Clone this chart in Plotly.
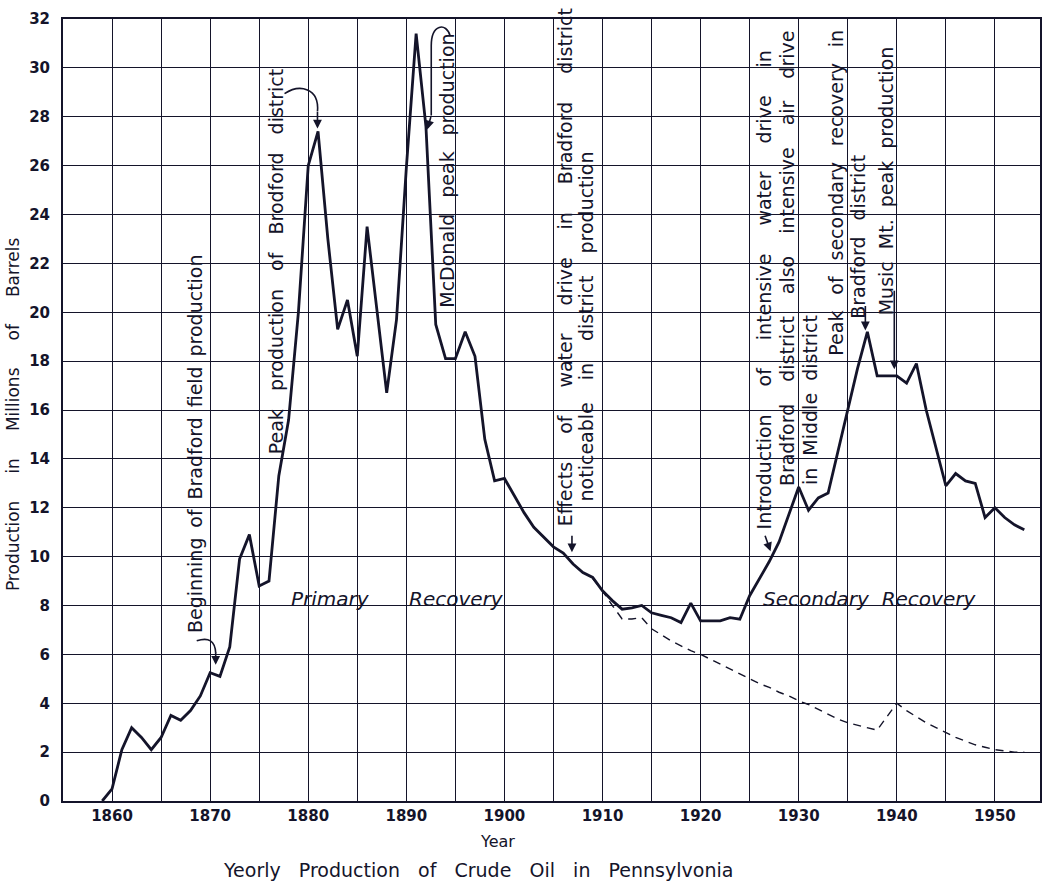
import plotly.graph_objects as go

# ---------------- data ----------------
years = list(range(1859, 1954))
production = [
    0.0, 0.5, 2.1, 3.0, 2.6, 2.1, 2.6, 3.5, 3.3, 3.7,      # 1859-1868
    4.3, 5.25, 5.1, 6.3, 9.9, 10.9, 8.8, 9.0, 13.3, 15.6,  # 1869-1878
    20.0, 26.0, 27.4, 23.0, 19.3, 20.5, 18.2, 23.5, 20.1, 16.7,  # 1879-1888
    19.7, 25.9, 31.4, 27.6, 19.5, 18.1, 18.1, 19.2, 18.2, 14.8,  # 1889-1898
    13.1, 13.2, 12.5, 11.8, 11.2, 10.8, 10.4, 10.15, 9.7, 9.35,  # 1899-1908
    9.15, 8.6, 8.2, 7.85, 7.9, 8.0, 7.7, 7.6, 7.5, 7.3,          # 1909-1918
    8.1, 7.37, 7.37, 7.37, 7.5, 7.44, 8.4, 9.1, 9.8, 10.6,       # 1919-1928
    11.7, 12.85, 11.9, 12.4, 12.6, 14.3, 16.1, 17.7, 19.2, 17.4, # 1929-1938
    17.4, 17.4, 17.1, 17.9, 16.0, 14.5, 12.9, 13.4, 13.1, 13.0,  # 1939-1948
    11.6, 12.0, 11.6, 11.3, 11.1,                                # 1949-1953
]

primary_years = list(range(1909, 1954))
primary_only = [
    9.1, 8.6, 8.0, 7.45, 7.45, 7.5, 7.05, 6.8, 6.55, 6.35,   # 1909-1918
    6.15, 6.0, 5.8, 5.6, 5.4, 5.2, 5.0, 4.8, 4.65, 4.45,     # 1919-1928
    4.3, 4.1, 3.95, 3.75, 3.55, 3.35, 3.2, 3.1, 3.0, 2.9,    # 1929-1938
    3.45, 4.0, 3.7, 3.45, 3.2, 3.0, 2.8, 2.6, 2.45, 2.3,     # 1939-1948
    2.2, 2.1, 2.05, 2.0, 2.0,                                # 1949-1953
]

x_ticks = [1860, 1870, 1880, 1890, 1900, 1910, 1920, 1930, 1940, 1950]
x_tick_text = ["1860", "1870", "1880", "1890", "1900", "1910", "1920", "1930", "1940", "1950"]
y_ticks = list(range(0, 33, 2))

INK = "#14142a"
FONT = "DejaVu Sans"

# ---------------- layout geometry ----------------
W, H = 1052, 887
L, R, T, B = 63, 10, 15, 86
PW, PH = W - L - R, H - T - B


def P(px, py):
    """pixel position in the page -> paper fraction"""
    return (px - L) / PW, (H - B - py) / PH


# approximate DejaVu Sans advance widths (em) used to spread words
_EM = dict(zip("abcdefghijklmnopqrstuvwxyz",
               [.613, .635, .550, .635, .615, .352, .635, .634, .278, .278, .579, .278, .974,
                .634, .612, .635, .635, .411, .521, .392, .634, .592, .818, .592, .592, .525]))
_EM.update({"B": .686, "C": .698, "D": .770, "E": .632, "I": .295, "M": .863, "O": .787,
            "P": .603, "R": .695, "S": .635, "Y": .611, ".": .318, " ": .318})
NBSP, THIN = "\u00a0", "\u2009"


def spread(words, size, target):
    glyph = sum(_EM.get(c, .6) for w in words for c in w) * size
    gaps = max(1, len(words) - 1)
    g = max(0.318 * size, (target - glyph) / gaps)
    n = int(g // (0.318 * size))
    m = int(round((g - n * 0.318 * size) / (0.2 * size)))
    return (NBSP * n + THIN * m).join(words)


fig = go.Figure()

fig.add_trace(go.Scatter(
    x=primary_years, y=primary_only, mode="lines",
    line=dict(color=INK, width=1.4, dash="8px,6px"),
    hoverinfo="skip", showlegend=False,
))
fig.add_trace(go.Scatter(
    x=years, y=production, mode="lines",
    line=dict(color=INK, width=2.8),
    showlegend=False,
))

annotations = []
shapes = []
ASZ = 19


def vtext(words, px, py_bottom, length, size=ASZ):
    fx, fy = P(px, py_bottom)
    annotations.append(dict(
        text=spread(words, size, length), xref="paper", yref="paper", x=fx, y=fy,
        xanchor="center", yanchor="bottom", textangle=-90, showarrow=False,
        font=dict(family=FONT, size=size, color=INK),
    ))


def htext(text, px, py, size, length=None, italic=False, angle=0):
    words = text.split(" ")
    t = spread(words, size, length) if length else text
    if italic:
        t = "<i>" + t + "</i>"
    fx, fy = P(px, py)
    annotations.append(dict(
        text=t, xref="paper", yref="paper", x=fx, y=fy, textangle=angle,
        xanchor="center", yanchor="middle", showarrow=False,
        font=dict(family=FONT, size=size, color=INK),
    ))


def arrow_head(tip_px, tip_py, ax, ay):
    fx, fy = P(tip_px, tip_py)
    annotations.append(dict(
        text="", xref="paper", yref="paper", x=fx, y=fy, ax=ax, ay=ay,
        showarrow=True, arrowhead=2, arrowsize=1.1, arrowwidth=1.6,
        arrowcolor=INK,
    ))


def path(points_cmd):
    s = ""
    for cmd, pts in points_cmd:
        s += cmd + " " + " ".join("%.5f,%.5f" % P(a, b) for a, b in pts) + " "
    shapes.append(dict(type="path", xref="paper", yref="paper", path=s.strip(),
                       line=dict(color=INK, width=1.6)))


vtext(["Beginning", "of", "Bradford", "field", "production"], 196, 634, 379)
path([("M", [(197, 640)]), ("Q", [(215, 634), (216, 652)])])
arrow_head(216, 664, 0, -14)

vtext(["Peak", "production", "of", "Brodford", "district"], 276, 455, 393)
path([("M", [(285, 90)]), ("C", [(300, 80), (320, 84), (318, 108)])])
arrow_head(318, 125, 0, -18)

vtext(["McDonald", "peak", "production"], 447, 307, 272)
path([("M", [(451, 32)]), ("C", [(447, 18), (432, 20), (432, 42)]), ("L", [(432, 112)])])
arrow_head(428, 126, 4, -14)

vtext(["Effects", "of", "water", "drive", "in", "Bradford", "district"], 566, 527, 515)
vtext(["noticeable", "in", "district", "production"], 587, 502, 352)
arrow_head(573, 551, 0, -18)

vtext(["Introduction", "of", "intensive", "water", "drive", "in"], 765, 530, 485)
vtext(["Bradford", "district", "also", "intensive", "air", "drive"], 788, 487, 453)
vtext(["in", "Middle", "district"], 811, 485, 173)
arrow_head(772, 550, -6, -17)

vtext(["Peak", "of", "secondary", "recovery", "in"], 838, 355, 334)
vtext(["Bradford", "district"], 860, 318, 164)
arrow_head(867, 328, 0, -26)

vtext(["Music", "Mt.", "peak", "production"], 888, 315, 270)
arrow_head(896, 367, 0, -80)

# region labels
htext("Primary", 331, 598, 20, italic=True)
htext("Recovery", 457, 598, 20, italic=True)
htext("Secondary Recovery", 871, 598, 20, length=214, italic=True)

# axis titles and caption
htext("Production in Millions of Barrels", 13, 412, 17, length=355, angle=-90)
htext("Year", 498, 842, 16)
htext("Yeorly Production of Crude Oil in Pennsylvonia", 479, 870, 19, length=522)

fig.update_layout(
    width=W, height=H,
    margin=dict(l=L, r=R, t=T, b=B, pad=0),
    paper_bgcolor="white", plot_bgcolor="white",
    annotations=annotations, shapes=shapes,
    showlegend=False,
)
fig.update_xaxes(
    range=[1855, 1954.6], tickmode="array", tickvals=x_ticks, ticktext=x_tick_text,
    showgrid=True, gridcolor=INK, gridwidth=1.3,
    minor=dict(tickmode="linear", tick0=1855, dtick=5, showgrid=True, gridcolor=INK, gridwidth=1.3),
    showline=True, linecolor=INK, linewidth=2, mirror=True,
    ticks="", zeroline=False,
    tickfont=dict(family=FONT, size=15, color=INK, weight="bold"),
)
fig.update_yaxes(
    range=[0, 32], tickmode="array", tickvals=y_ticks,
    showgrid=True, gridcolor=INK, gridwidth=1.3,
    showline=True, linecolor=INK, linewidth=2, mirror=True,
    ticks="", zeroline=False, ticklabelstandoff=8,
    tickfont=dict(family=FONT, size=15, color=INK, weight="bold"),
)

# the page is photographed at the window's top-left corner: drop the default body margin
fig.write_html("out.html", config={"displayModeBar": False},
               post_script="document.body.style.margin='0px';")
